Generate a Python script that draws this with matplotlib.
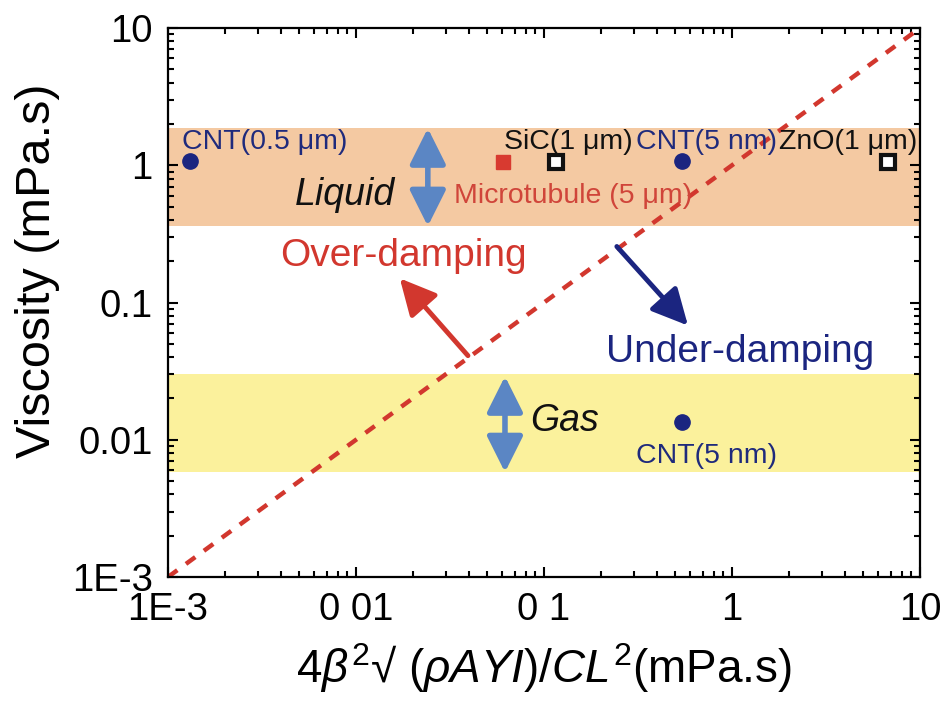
import matplotlib
matplotlib.use("Agg")
import matplotlib.pyplot as plt
from matplotlib.ticker import FixedLocator, FixedFormatter, LogLocator, NullFormatter

plt.rcParams['font.family'] = ['Liberation Sans', 'DejaVu Sans']
plt.rcParams['mathtext.fontset'] = 'custom'
plt.rcParams['mathtext.rm'] = 'Liberation Sans'
plt.rcParams['mathtext.it'] = 'Liberation Sans:italic'
plt.rcParams['mathtext.bf'] = 'Liberation Sans:bold'

# ---- data ----
x_ticks = [1e-3, 1e-2, 1e-1, 1, 10]
x_tick_labels = ['1E-3', '0 01', '0 1', '1', '10']
y_ticks = [1e-3, 1e-2, 1e-1, 1, 10]
y_tick_labels = ['1E-3', '0.01', '0.1', '1', '10']

liquid_band = (0.36, 1.86)
gas_band = (0.0058, 0.030)

cnt_circle_x = [0.00131, 0.542, 0.545]
cnt_circle_y = [1.08, 1.08, 0.0135]
microtubule_x = [0.0605]
microtubule_y = [1.06]
open_square_x = [0.116, 6.76]
open_square_y = [1.06, 1.06]

diag_x = [1e-3, 10]
diag_y = [1e-3, 10]

labels = [
    ('CNT(0.5 μm)', 0.00328, 1.47, '#1f2a7c'),
    ('SiC(1 μm)', 0.134, 1.47, '#111111'),
    ('CNT(5 nm)', 0.735, 1.47, '#1f2a7c'),
    ('ZnO(1 μm)', 4.14, 1.47, '#111111'),
    ('Microtubule (5 μm)', 0.1426, 0.594, '#d0453a'),
    ('CNT(5 nm)', 0.735, 0.00763, '#1f2a7c'),
]

fig = plt.figure(figsize=(9.47, 7.06), dpi=100)
ax = fig.add_axes([0.1774, 0.1827, 0.7941, 0.7776])
ax.set_xscale('log')
ax.set_yscale('log')
ax.set_xlim(1e-3, 10)
ax.set_ylim(1e-3, 10)

ax.axhspan(*liquid_band, color='#f4c9a2', lw=0, zorder=0)
ax.axhspan(*gas_band, color='#fbf19c', lw=0, zorder=0)

ax.plot(diag_x, diag_y, color='#d2372e', lw=3.2, ls=(0, (2.6, 2.4)), zorder=2)

ax.plot(cnt_circle_x, cnt_circle_y, 'o', color='#1b2580', ms=11, zorder=4)
ax.plot(microtubule_x, microtubule_y, 's', color='#d83a30', ms=10.5, zorder=4)
ax.plot(open_square_x, open_square_y, 's', mfc='white', mec='#111111', mew=3, ms=10, zorder=4)

for txt, x, y, c in labels:
    ax.text(x, y, txt, color=c, fontsize=20.5, ha='center', va='center', zorder=5)

# double arrows
arrow_blue = '#5b86c4'
ax.annotate('', xy=(0.0241, 0.36), xytext=(0.0241, 1.86),
            arrowprops=dict(arrowstyle='<|-|>,head_length=1.1,head_width=0.55', color=arrow_blue,
                            lw=4, mutation_scale=20, shrinkA=0, shrinkB=0), zorder=3)
ax.annotate('', xy=(0.062, 0.0058), xytext=(0.062, 0.029),
            arrowprops=dict(arrowstyle='<|-|>,head_length=1.1,head_width=0.55', color=arrow_blue,
                            lw=4, mutation_scale=20, shrinkA=0, shrinkB=0), zorder=3)

# damping arrows
ax.annotate('', xy=(0.0171, 0.150), xytext=(0.0394, 0.041),
            arrowprops=dict(arrowstyle='-|>,head_length=1.1,head_width=0.55', color='#d2372e',
                            lw=3.5, mutation_scale=20, shrinkA=0, shrinkB=0), zorder=3)
ax.annotate('', xy=(0.583, 0.068), xytext=(0.244, 0.256),
            arrowprops=dict(arrowstyle='-|>,head_length=1.1,head_width=0.55', color='#1b2580',
                            lw=3.5, mutation_scale=20, shrinkA=0, shrinkB=0), zorder=3)

ax.text(0.0178, 0.217, 'Over-damping', color='#d2372e', fontsize=28, ha='center', va='center')
ax.text(1.10, 0.0438, 'Under-damping', color='#1b2580', fontsize=28, ha='center', va='center')
ax.text(0.00873, 0.604, 'Liquid', color='#111111', fontsize=27, style='italic', ha='center', va='center')
ax.text(0.129, 0.01377, 'Gas', color='#111111', fontsize=27, style='italic', ha='center', va='center')

ax.xaxis.set_major_locator(FixedLocator(x_ticks))
ax.xaxis.set_major_formatter(FixedFormatter(x_tick_labels))
ax.yaxis.set_major_locator(FixedLocator(y_ticks))
ax.yaxis.set_major_formatter(FixedFormatter(y_tick_labels))
for a in (ax.xaxis, ax.yaxis):
    a.set_minor_locator(LogLocator(base=10, subs=range(2, 10)))
    a.set_minor_formatter(NullFormatter())

ax.tick_params(which='both', direction='in', top=True, right=True, width=1.5, colors='black')
ax.tick_params(which='major', length=7, labelsize=27.5)
ax.tick_params(axis='x', which='major', pad=11)
ax.tick_params(axis='y', which='major', pad=11)
ax.tick_params(which='minor', length=4.5)
for s in ax.spines.values():
    s.set_linewidth(1.6)

ax.set_ylabel('Viscosity (mPa.s)', fontsize=35)
ax.yaxis.set_label_coords(-0.144, 0.557)
ax.set_xlabel(r'$4\beta^2$√ $(\rho AYI)/CL^2$(mPa.s)', fontsize=33, labelpad=9)

fig.savefig('out.png', dpi=100)
